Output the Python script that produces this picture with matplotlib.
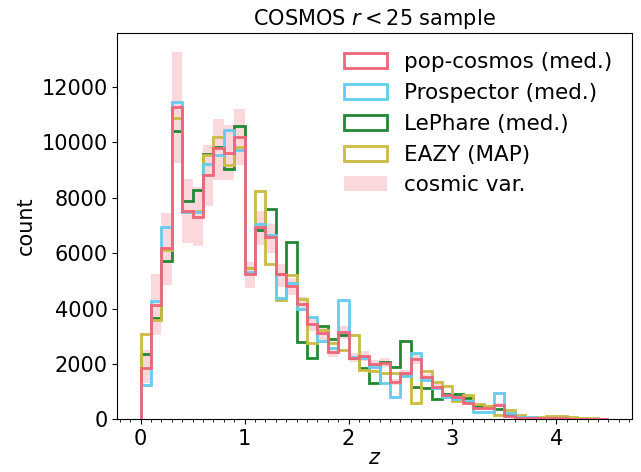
import numpy as np
import matplotlib
matplotlib.use("Agg")
from matplotlib import pyplot as plt
from matplotlib.ticker import MultipleLocator

# bin edges: 0 to 4.5 in steps of 0.1
edges = np.round(np.arange(0, 4.51, 0.1), 2)
centres = 0.5 * (edges[:-1] + edges[1:])

pop_cosmos = [1840, 4120, 6170, 11280, 7510, 7310, 8810, 9780, 9630, 10190,
              5240, 6950, 6570, 5240, 4820, 4150, 3430, 3100, 2420, 3140,
              2220, 2280, 1990, 2040, 1360, 1660, 2160, 1520, 1180, 880,
              815, 600, 420, 420, 520, 120, 60, 50, 40, 35,
              30, 25, 20, 15, 10]
prospector = [1240, 4270, 6950, 11460, 7470, 7490, 9235, 9560, 10440, 9715,
              5320, 7070, 6650, 4370, 4930, 3990, 3700, 2840, 2580, 4320,
              2240, 2210, 1880, 1320, 815, 1560, 2400, 1420, 1120, 795,
              720, 650, 255, 275, 940, 215, 90, 70, 50, 40,
              30, 25, 15, 10, 5]
lephare = [2345, 3640, 5720, 10400, 7875, 8270, 9570, 9850, 9055, 10580,
           5470, 6830, 7590, 5230, 6410, 2800, 2200, 3370, 2890, 3050,
           2230, 1860, 1300, 2080, 1880, 2825, 1180, 1120, 730, 900,
           900, 760, 480, 480, 360, 150, 80, 50, 40, 30,
           20, 15, 10, 5, 5]
eazy = [3080, 3580, 6110, 10880, 7500, 7510, 9535, 10195, 9175, 9835,
        5450, 8240, 5600, 4300, 5210, 4330, 2740, 3220, 2760, 2490,
        3050, 1770, 1750, 1680, 1660, 1620, 580, 1750, 1335, 1210,
        670, 880, 550, 480, 155, 335, 155, 100, 90, 110,
        120, 90, 60, 40, 20]
cv_lo = [1300, 3040, 4850, 9260, 6350, 6260, 7710, 8630, 8630, 9200,
         4730, 6290, 5990, 4780, 4480, 3900, 3200, 2880, 2250, 2900,
         2080, 2120, 1840, 1880, 1250, 1530, 1980, 1400, 1080, 800,
         740, 540, 380, 380, 470, 100, 50, 40, 30, 25,
         20, 18, 14, 10, 6]
cv_hi = [2500, 5240, 7450, 13270, 8690, 8400, 9900, 10830, 10620, 11190,
         5690, 7510, 7070, 5600, 5100, 4400, 3650, 3330, 2600, 3380,
         2400, 2450, 2150, 2200, 1470, 1790, 2350, 1640, 1280, 960,
         890, 660, 460, 460, 570, 140, 70, 60, 50, 45,
         40, 32, 26, 20, 14]

series = [("pop-cosmos (med.)", pop_cosmos, "#EE6677", 5),
          ("Prospector (med.)", prospector, "#66CCEE", 4),
          ("LePhare (med.)", lephare, "#228833", 3),
          ("EAZY (MAP)", eazy, "#CCBB44", 3)]

plt.rcParams["font.size"] = 15

fig = plt.figure(figsize=(6.41, 4.72), dpi=100)
ax = fig.add_axes([0.183, 0.1117, 0.8025, 0.8183])

for label, vals, col, z in series:
    ax.hist(centres, bins=edges, weights=vals, histtype="step", color=col,
            lw=2, label=label, zorder=z)

lo = np.array(cv_lo)
hi = np.array(cv_hi)
ax.bar(centres, hi - lo, bottom=lo, width=0.1, color="#EE6677", alpha=0.25,
       lw=0, label="cosmic var.", zorder=1)

ax.set_xlim(-0.225, 4.725)
ax.set_ylim(0, 13950)
ax.xaxis.set_minor_locator(MultipleLocator(0.1))
ax.set_xlabel("$z$", labelpad=-1)
ax.set_ylabel("count")
ax.set_title("COSMOS $r < 25$ sample", fontsize=15)
ax.legend(loc="upper right", frameon=False, fontsize=15.5)

fig.savefig("out.png", dpi=100)
